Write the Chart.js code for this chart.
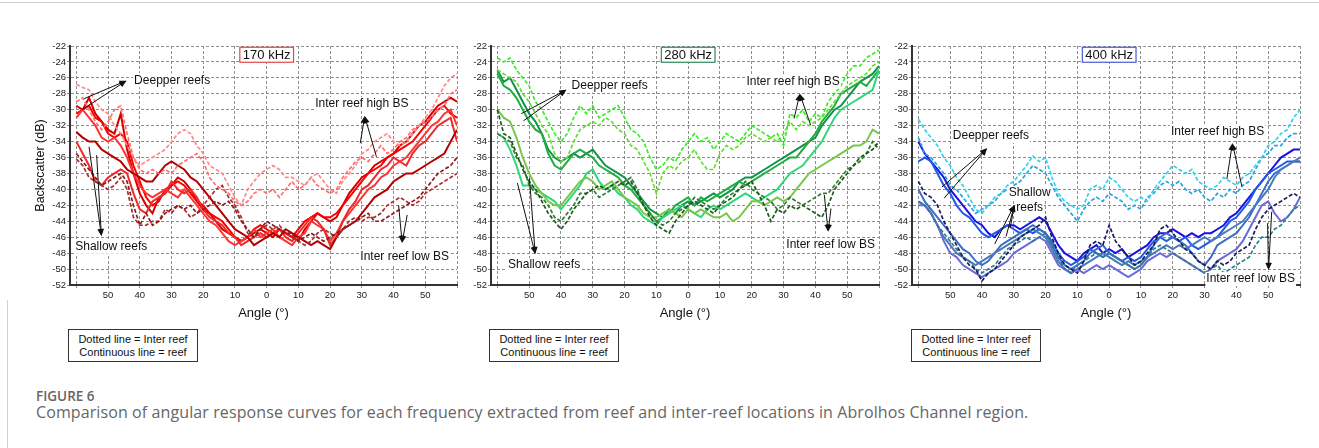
<!DOCTYPE html>
<html>
<head>
<meta charset="utf-8">
<script src="https://cdn.jsdelivr.net/npm/chart.js@4.4.0/dist/chart.umd.min.js"></script>
<style>
    html, body { margin: 0; padding: 0; background: #fff; }
    body { width: 1319px; height: 448px; position: relative; overflow: hidden; font-family: 'Liberation Sans', Arial, sans-serif; }
    .frame-top { position: absolute; left: 0; top: 2px; width: 1319px; height: 1px; background: #cfcfcf; }
    .frame-left { position: absolute; left: 7px; top: 300px; width: 1px; height: 148px; background: #cfcfcf; }
    .panel { position: absolute; top: 38px; height: 287px; }
    .key {
        position: absolute; top: 329px; width: 130px; height: 33px; box-sizing: border-box;
        border: 1px solid #333; padding-top: 3px; font-size: 11px; line-height: 12.5px;
        text-align: center; color: #111;
    }
    .fig-label { position: absolute; left: 36px; top: 390px; font-family: 'Open Sans', sans-serif; font-size: 13.5px; line-height: 13.5px; font-weight: 600; color: #666; }
    .fig-caption { position: absolute; left: 36px; top: 404px; font-family: 'Open Sans', sans-serif; font-size: 16px; line-height: 16px; letter-spacing: 0.1px; color: #666; white-space: nowrap; }
</style>
</head>
<body>
<div class="frame-top"></div>
<div class="frame-left"></div>

<canvas id="p170" class="panel" style="left:30px;width:431px" width="431" height="287"></canvas>
<canvas id="p280" class="panel" style="left:461px;width:422px" width="422" height="287"></canvas>
<canvas id="p400" class="panel" style="left:882px;width:422px" width="422" height="287"></canvas>

<div class="key" style="left:68px">Dotted line = Inter reef<br>Continuous line = reef</div>
<div class="key" style="left:489px">Dotted line = Inter reef<br>Continuous line = reef</div>
<div class="key" style="left:911px">Dotted line = Inter reef<br>Continuous line = reef</div>

<div class="fig-label">FIGURE 6</div>
<div class="fig-caption">Comparison of angular response curves for each frequency extracted from reef and inter-reef locations in Abrolhos Channel region.</div>

<script>
/* ---------- axes ---------- */
const ANGLES = [
    -60, -58, -56, -54, -52, -50, -48, -46, -44, -42,
    -40, -38, -36, -34, -32, -30, -28, -26, -24, -22,
    -20, -18, -16, -14, -12, -10, -8, -6, -4, -2,
    0, 2, 4, 6, 8, 10, 12, 14, 16, 18,
    20, 22, 24, 26, 28, 30, 32, 34, 36, 38,
    40, 42, 44, 46, 48, 50, 52, 54, 56, 58,
    60
];
const X_TICKS = [-60, -50, -40, -30, -20, -10, 0, 10, 20, 30, 40, 50, 60];
const X_TICK_LABELS = ['', '50', '40', '30', '20', '10', '0', '10', '20', '30', '40', '50', ''];
const Y_TICKS = [-52, -50, -48, -46, -44, -42, -40, -38, -36, -34, -32, -30, -28, -26, -24, -22];

/* ---------- 170 kHz ---------- */
const K170_INTER_HIGH_1 = [
    -26.8, -27.2, -27.5, -29, -30, -30.5, -32, -33, -34.5, -36,
    -37, -36.5, -36, -35.5, -35, -34, -33, -32.5, -33, -34.5,
    -35.5, -37, -37.5, -38, -39.5, -41, -42, -40, -39, -38,
    -37.5, -37, -37.5, -38.5, -38.5, -39, -39.5, -38.5, -38, -39,
    -40, -40.5, -39, -38, -37, -35.5, -35, -34, -33.5, -33,
    -34, -34.5, -34, -33, -32, -31, -30, -28.5, -27, -26,
    -25.5
];
const K170_INTER_HIGH_2 = [
    -29, -28.5, -30, -31.5, -32.5, -31.5, -30, -29.5, -33, -36,
    -37.5, -38, -37.5, -38, -37.5, -38, -37, -36.5, -36, -35.5,
    -36.5, -38.5, -39.5, -40, -40.5, -41.5, -42, -41.5, -40.5, -40,
    -40.5, -40, -41, -40, -39, -40, -39.5, -38.5, -39.5, -40,
    -40.5, -40, -38.5, -37.5, -36.5, -36, -36.5, -35.5, -34.5, -35.5,
    -35, -34, -33.5, -32.5, -32, -31.5, -31, -30, -29.5, -28,
    -27.5
];
const K170_INTER_LOW_1 = [
    -35.5, -36.5, -37.5, -38.5, -39.5, -39, -38.5, -38, -39, -42,
    -44.5, -43, -44.5, -44, -43, -42.5, -42, -42.5, -42, -43,
    -42.5, -42, -41.5, -42, -41.5, -42.5, -44, -45, -46, -45,
    -44, -44.5, -45, -45.5, -45.5, -46.5, -46, -45.5, -46, -46.5,
    -46, -45.5, -45, -44.5, -44, -43.5, -43, -44, -44, -43.5,
    -43, -42.5, -42, -41.5, -41, -40, -39, -38, -37.5, -37,
    -36
];
const K170_INTER_LOW_2 = [
    -36.2, -37, -38.5, -39, -39.5, -40, -39.5, -38.5, -40, -43.5,
    -44.5, -44.5, -44, -44, -42.5, -43, -42, -42.5, -43.5, -43,
    -42, -41, -40, -39.5, -41, -42, -43.5, -45.5, -46, -45,
    -44.5, -45, -44.5, -45.5, -46, -46.5, -47, -46.5, -45.5, -45,
    -45.5, -46, -45, -44, -43.5, -44, -43.5, -43.5, -43, -42,
    -41.5, -41, -41.5, -42, -41.5, -40.5, -40, -39.5, -39, -38.5,
    -38
];
const K170_REEF_1 = [
    -30.5, -30, -29.5, -31, -31.5, -33, -33.5, -33, -34, -37,
    -39, -41, -42, -41.5, -40, -39.5, -39, -39.5, -40.5, -41.5,
    -42, -43, -43.5, -44, -45, -46, -46.5, -46, -45, -44.5,
    -45, -45.5, -45, -45.5, -46, -45, -44, -43.5, -43, -43.5,
    -43.5, -43, -42, -41, -40, -39, -38, -37.5, -37, -36,
    -35.5, -35, -34.5, -34, -33, -32, -31, -30, -29.5, -30.5,
    -31
];
const K170_REEF_2 = [
    -29.5, -30, -28.5, -30.5, -31.5, -32.5, -33, -30.5, -35, -38,
    -40.5, -42, -43, -41, -40.5, -39.5, -38.5, -39, -40, -41.5,
    -42.5, -43, -44, -45, -45.5, -46, -46.5, -46, -45.5, -45,
    -45.5, -46, -45, -45.5, -46, -46.5, -45, -44, -43, -43.5,
    -44, -43.5, -42, -40.5, -39.5, -38.5, -38, -37, -36.5, -36,
    -35.5, -34.5, -34, -33, -32, -31.5, -30.5, -29.5, -29, -28.5,
    -29
];
const K170_REEF_3 = [
    -31, -30, -31, -32, -33.5, -34, -33.5, -34.5, -36, -38,
    -39.5, -40.5, -41, -40.5, -40, -40.5, -41, -40, -41, -42,
    -43, -44, -44.5, -45.5, -46.5, -47, -46.5, -46, -45, -46,
    -45.5, -45, -46, -46.5, -47, -46, -45.5, -44, -44.5, -45,
    -46.5, -45.5, -44, -43, -42, -41, -40, -39.5, -38.5, -38,
    -37, -36.5, -36, -35, -34, -33, -32, -31.5, -30.5, -30,
    -32
];
const K170_REEF_4 = [
    -32.8, -33.5, -34, -34, -35, -35.5, -36, -36.5, -37.5, -38,
    -38.5, -39, -39, -38, -37, -36.5, -37, -37.5, -38.5, -39,
    -40, -41, -42, -43, -44, -45, -45.5, -46, -47, -46.5,
    -46, -45.5, -46, -45, -45.5, -46, -46.5, -47, -46.5, -47,
    -47.5, -46, -45, -44.5, -44, -43, -42, -41, -40.5, -40,
    -39, -38.5, -38, -38, -37.5, -37, -36.5, -36, -35.5, -34,
    -32.5
];
const K170_REEF_5 = [
    -34, -35.5, -37, -39, -39.5, -38.5, -38, -37.5, -38, -40.5,
    -42.5, -43, -41.5, -41, -40.5, -39, -40, -40.5, -40, -41,
    -42.5, -43.5, -44, -44.5, -45.5, -46, -47, -46.5, -46, -45.5,
    -46, -45.5, -45, -46, -46.5, -45.5, -44.5, -43.5, -44, -45,
    -47, -46, -44, -42.5, -41.5, -40, -39.5, -38.5, -37.5, -37,
    -36, -36.5, -37, -35.5, -34.5, -34, -33, -32, -31.5, -31,
    -34
];

/* ---------- 280 kHz ---------- */
const K280_INTER_HIGH_1 = [
    -23.5, -24, -23.5, -25, -26, -27, -29, -30, -31.5, -33,
    -34, -33, -31, -29.5, -30.5, -29.5, -31, -30.5, -30, -29.5,
    -31, -32.5, -33, -34, -36, -37.5, -37, -36, -36.5, -35,
    -34, -33, -34, -33.5, -35, -34, -33, -33.5, -34, -33,
    -32, -32.5, -33, -33.5, -33, -34.5, -30.5, -31, -30, -31.5,
    -30.5, -31, -29, -28, -27, -25.5, -24.5, -24.5, -23.5, -23,
    -22.5
];
const K280_INTER_HIGH_2 = [
    -25, -25.5, -26, -26.5, -28, -29, -30.5, -32, -33, -35.5,
    -36.5, -36, -34, -32.5, -32, -31.5, -32, -31, -31.5, -32.5,
    -33, -34.5, -35, -36.5, -38, -40.5, -38, -37, -37.5, -36.5,
    -36, -35, -36.5, -37.5, -37.5, -35.5, -34.5, -35, -34.5, -33.5,
    -33, -33.5, -34, -33.5, -34, -33, -31.5, -32.5, -31.5, -32,
    -31.5, -31, -30, -29, -28, -27, -26.5, -26, -25.5, -24.5,
    -24
];
const K280_INTER_LOW_1 = [
    -30, -33, -33.5, -35.5, -37.5, -39, -40, -41.5, -43, -44,
    -45, -44, -42.5, -41.5, -40.5, -40, -39.5, -40, -39.5, -39,
    -39.5, -39, -40.5, -42, -43.5, -44.5, -45, -45.5, -44, -43,
    -42, -41.5, -42, -42.5, -43, -42, -41.5, -41, -40, -39.5,
    -39, -40.5, -42, -44, -42.5, -43, -42, -42.5, -42, -42.5,
    -43, -43.5, -42, -40, -39, -38, -37, -36, -35.5, -35,
    -34
];
const K280_INTER_LOW_2 = [
    -33, -33.5, -34, -36, -37, -39.5, -40.5, -41, -42, -43.5,
    -44, -43, -42, -40.5, -40.5, -40, -41, -40.5, -40, -39.5,
    -39, -38.5, -40, -42, -43, -44, -44.5, -44, -43, -42.5,
    -42, -41, -41.5, -42, -42.5, -42, -41, -40.5, -40, -39,
    -40, -40.5, -41, -41.5, -42.5, -42, -41, -41.5, -42, -41.5,
    -41, -40.5, -40.5, -39.5, -38.5, -37.5, -37, -36.5, -35.5, -34,
    -35
];
const K280_REEF_1 = [
    -25, -26.5, -26, -27.5, -29, -30.5, -31.5, -33, -35, -36,
    -36.5, -36, -35.5, -36, -35.5, -35, -36, -37, -37.5, -38,
    -38.5, -39.5, -40.5, -41.5, -42.5, -43, -43.5, -42.5, -43, -42,
    -41.5, -42, -41.5, -41, -40.5, -41, -40.5, -40, -39, -38.5,
    -38.5, -38, -37.5, -37, -36.5, -36, -35.5, -35, -34.5, -34,
    -33.5, -32, -31, -30, -29.5, -28.5, -27.5, -26.5, -26, -25.5,
    -24.5
];
const K280_REEF_2 = [
    -25.5, -27, -27.5, -28.5, -30, -31.5, -32.5, -33, -35.5, -37,
    -37.5, -36.5, -35.5, -35, -35.5, -36, -37, -37.5, -38, -38.5,
    -39.5, -40, -41, -42, -43, -44, -43.5, -43, -42, -41.5,
    -41, -42, -41, -41.5, -41, -40.5, -40, -39.5, -39, -39.5,
    -39, -38.5, -38, -37.5, -37, -36.5, -36, -36, -35, -34,
    -33, -31.5, -30.5, -29.5, -28, -27.5, -27, -26.5, -27, -26,
    -25
];
const K280_REEF_3 = [
    -30, -31, -31.5, -33.5, -36, -38, -39.5, -40.5, -41.5, -42,
    -42, -41, -40, -39, -38.5, -39, -40, -39.5, -39, -40,
    -41, -41.5, -42, -43, -43.5, -43.5, -43, -42.5, -43, -43.5,
    -42.5, -43, -42.5, -43, -43.5, -43.5, -43, -44, -43.5, -42.5,
    -41.5, -41.5, -42, -41.5, -41, -41.5, -41, -40, -39, -38,
    -37.5, -37, -36.5, -36, -35.5, -35, -34.5, -34.5, -34, -32.5,
    -33
];
const K280_REEF_4 = [
    -33, -33.5, -35, -37, -39.5, -39.5, -40, -40.5, -41, -41.5,
    -42.5, -41.5, -40.5, -39.5, -38, -37.5, -39, -40, -39.5, -40.5,
    -41, -42, -42.5, -43.5, -44, -44.5, -43.5, -43, -42.5, -42,
    -42.5, -43, -43.5, -42.5, -42, -42.5, -42, -41.5, -41, -40.5,
    -41, -41.5, -41, -40.5, -40, -39, -38, -37.5, -37, -36,
    -35, -34, -32.5, -31, -30, -29.5, -29, -28.5, -28, -27.5,
    -25
];

/* ---------- 400 kHz ---------- */
const K400_INTER_HIGH_1 = [
    -31.2, -32.5, -33.5, -34.5, -36, -37, -38.5, -39.5, -41, -42.5,
    -43, -42, -41, -40.5, -39.5, -39, -38, -37, -35.8, -36.5,
    -36, -38.5, -40.5, -41.5, -42, -42.5, -42, -40, -39.5, -40,
    -38.5, -39, -40, -41, -41.5, -41, -41.5, -40, -39, -38,
    -37, -37.5, -38, -37.5, -39, -39.5, -40, -39.5, -38.5, -39,
    -39.5, -38.5, -38, -37, -36, -34.5, -34, -33, -32.5, -31,
    -30
];
const K400_INTER_HIGH_2 = [
    -33.5, -35.5, -36, -37, -38, -39.5, -40, -41, -42, -43,
    -42.5, -42, -41.5, -40.5, -40, -39.5, -39, -38, -37, -37.5,
    -38, -39.5, -41, -42, -43, -44, -42.5, -41.5, -41, -41.5,
    -40.5, -41, -41.5, -42.5, -42, -42.5, -41, -40.5, -39.5, -39,
    -39.5, -39, -40, -40.5, -40, -41, -41.5, -40.5, -41, -40,
    -40.5, -39.5, -39, -37.5, -36, -35.5, -34.5, -34.5, -33.5, -33,
    -33
];
const K400_INTER_LOW_1 = [
    -39, -40.5, -41, -42, -44, -45.5, -47, -48.5, -49.5, -50,
    -51.5, -50.5, -50, -49, -48, -47, -46, -45.5, -45, -44.5,
    -43.5, -46, -48, -49.5, -50, -50.5, -49, -47, -46.5, -47,
    -44.5, -46.5, -47.5, -48.5, -49.5, -49, -48, -47, -45, -44.5,
    -45.5, -46.5, -47.5, -48, -49, -49.5, -50, -49, -49.5, -49,
    -48, -47.5, -47, -45, -43.5, -42.5, -42, -41.5, -41, -40.5,
    -41
];
const K400_INTER_LOW_2 = [
    -41.5, -42, -43, -44.5, -45.5, -46.5, -47.5, -48.5, -49, -50,
    -50.5, -50, -49.5, -48.5, -47.5, -47, -46.5, -46, -46.5, -46,
    -45.5, -47, -48.5, -50, -50.5, -49.5, -49, -48.5, -48, -48.5,
    -48, -48.5, -49, -49.5, -50, -49.5, -48.5, -47.5, -47, -47.5,
    -48, -48.5, -49, -49.5, -50, -50.5, -50, -49.5, -50.5, -50,
    -49.5, -49, -48.5, -47, -46, -46, -45, -44.5, -43.5, -42.5,
    -42
];
const K400_REEF_1 = [
    -34, -35.5, -36.5, -37.5, -38.5, -40, -41, -42, -43, -44,
    -44.5, -45.5, -46, -45, -44.5, -44.5, -45, -44.5, -44, -43.5,
    -44, -45.5, -47, -48, -48.5, -49, -48, -47.5, -47, -48,
    -47.5, -48, -47.5, -48.5, -48, -47.5, -47, -46, -45.5, -45.5,
    -45, -45.5, -46, -45.5, -46, -45.5, -45.5, -45, -44.5, -43.5,
    -43, -42, -41, -40, -39, -38, -37, -36, -35.5, -35,
    -35
];
const K400_REEF_2 = [
    -36.5, -36, -36.5, -38, -39.5, -40.5, -42, -43, -43.5, -44.5,
    -45.5, -46, -45.5, -45, -44.5, -45, -45.5, -45, -45.5, -45,
    -45.5, -46.5, -48, -49, -49.5, -49, -48.5, -47.5, -48, -48.5,
    -48, -48.5, -49, -48.5, -49, -48.5, -47.5, -46.5, -46, -46.5,
    -46, -46.5, -46, -47, -47.5, -47, -46.5, -46, -45, -44,
    -43.5, -42.5, -41.5, -40, -39, -38, -37.5, -37, -36.5, -36.5,
    -36.5
];
const K400_REEF_3 = [
    -41.5, -42, -43, -44.5, -46, -47, -48, -48.5, -49, -49.5,
    -49, -48.5, -48, -47.5, -47, -46.5, -46, -45.5, -45, -45.5,
    -46, -47.5, -49, -50, -50.5, -50, -49.5, -49, -48.5, -48,
    -48.5, -49, -49.5, -49, -49.5, -49, -48.5, -48, -47.5, -47,
    -47.5, -47, -47.5, -47, -46.5, -46, -46.5, -46, -45.5, -45,
    -44.5, -44, -43, -42, -41, -40, -38.5, -37.5, -37, -36.5,
    -36
];
const K400_REEF_4 = [
    -42, -42, -43, -44.5, -46.5, -48, -48.5, -49.5, -50, -50.5,
    -51, -50.5, -50, -49.5, -49, -48, -47.5, -47, -46.5, -46,
    -46.5, -48, -49.5, -50, -50.5, -50, -50.5, -50, -49.5, -50,
    -49.5, -50, -50.5, -51, -50.5, -50, -49, -48.5, -48, -48.5,
    -48, -48.5, -49, -49.5, -50, -50.5, -50, -49, -48.5, -48,
    -47.5, -46.5, -45, -43.5, -42, -41.5, -43, -44, -43.5, -42.5,
    -41
];
const K400_REEF_5 = [
    -40, -41.5, -42.5, -43.5, -44.5, -45.5, -46.5, -47.5, -48, -49,
    -49.5, -49, -48, -47, -46.5, -46, -45.5, -45, -44.5, -45,
    -45.5, -47, -48.5, -49.5, -50, -49.5, -49, -48, -47.5, -47,
    -48, -48.5, -49, -49.5, -50, -49.5, -48.5, -47, -46, -45.5,
    -46, -46.5, -47, -48, -49, -49.5, -48.5, -47, -46.5, -46,
    -45.5, -44.5, -43.5, -42, -40.5, -39, -38, -37.5, -37, -36.5,
    -36.5
];

/* ---------- look of each curve ---------- */
const SERIES_170 = [
    { values: K170_INTER_HIGH_1, color: '#ff8a8a', dotted: true },
    { values: K170_INTER_HIGH_2, color: '#ff6f6f', dotted: true },
    { values: K170_INTER_LOW_1, color: '#8e1c1c', dotted: true },
    { values: K170_INTER_LOW_2, color: '#a83030', dotted: true },
    { values: K170_REEF_4, color: '#b30000', dotted: false },
    { values: K170_REEF_5, color: '#ee2a2a', dotted: false },
    { values: K170_REEF_3, color: '#ff3333', dotted: false },
    { values: K170_REEF_1, color: '#ff0000', dotted: false },
    { values: K170_REEF_2, color: '#d40000', dotted: false }
];
const SERIES_280 = [
    { values: K280_INTER_HIGH_1, color: '#3aee2a', dotted: true },
    { values: K280_INTER_HIGH_2, color: '#66dd33', dotted: true },
    { values: K280_INTER_LOW_1, color: '#1d5a1d', dotted: true },
    { values: K280_INTER_LOW_2, color: '#2e7d32', dotted: true },
    { values: K280_REEF_3, color: '#78c64c', dotted: false },
    { values: K280_REEF_4, color: '#30d67a', dotted: false },
    { values: K280_REEF_2, color: '#1fae3f', dotted: false },
    { values: K280_REEF_1, color: '#12924a', dotted: false }
];
const SERIES_400 = [
    { values: K400_INTER_HIGH_1, color: '#35d0ee', dotted: true },
    { values: K400_INTER_HIGH_2, color: '#2aa4da', dotted: true },
    { values: K400_INTER_LOW_1, color: '#1c1c5c', dotted: true },
    { values: K400_INTER_LOW_2, color: '#2a7f8f', dotted: true },
    { values: K400_REEF_4, color: '#6a6ad8', dotted: false },
    { values: K400_REEF_3, color: '#4a7ab8', dotted: false },
    { values: K400_REEF_5, color: '#3b6cc8', dotted: false },
    { values: K400_REEF_2, color: '#1e5ae6', dotted: false },
    { values: K400_REEF_1, color: '#1a10e0', dotted: false }
];

/* ---------- annotations (data coordinates: [angle, dB]) ---------- */
const NOTES_170 = [
    { lines: ['Deepper reefs'], at: [-29.8, -26.3], head: [-44.2, -26.35], tails: [[-58.2, -30.0], [-57.5, -28.6]] },
    { lines: ['Shallow reefs'], at: [-49, -47.2], head: [-52.1, -45.85], tails: [[-56, -34.65], [-53.6, -35.7]] },
    { lines: ['Inter reef high BS'], at: [30, -29.3], head: [30.9, -30.8], tails: [[29.5, -34.2], [34.6, -35.9]] },
    { lines: ['Inter reef low BS'], at: [43.5, -48.5], head: [42.7, -46.7], tails: [[41.6, -42], [44.3, -43.2]] }
];
const NOTES_280 = [
    { lines: ['Deepper reefs'], at: [-24.7, -27], head: [-38.3, -27.5], tails: [[-52.5, -30.5], [-51.8, -31.4]] },
    { lines: ['Shallow reefs'], at: [-45.3, -49.5], head: [-48.1, -48.1], tails: [[-53.7, -39.2], [-49.9, -38.6]] },
    { lines: ['Inter reef high BS'], at: [33, -26.5], head: [35.1, -28], tails: [[33.3, -31.1], [38.5, -31.9]] },
    { lines: ['Inter reef low BS'], at: [44.8, -47], head: [44, -45.3], tails: [[42.8, -40.7], [44.9, -42.4]] }
];
const NOTES_400 = [
    { lines: ['Deepper reefs'], at: [-37.2, -33.3], head: [-38.4, -34.85], tails: [[-52.6, -39.7], [-51.9, -41.1]] },
    { lines: ['Shallow', 'reefs'], at: [-25, -41.4], head: [-29.8, -41.95], tails: [[-36, -46.85], [-32.4, -45.9], [-31.1, -44.8]] },
    { lines: ['Inter reef high BS'], at: [34.1, -32.75], head: [38.75, -34.2], tails: [[37, -38.7], [41.7, -39.6]] },
    { lines: ['Inter reef low BS'], at: [44.5, -51.25], head: [50.1, -50.1], tails: [[49.8, -44.25], [51.1, -42.8]] }
];

const FONT = 'Liberation Sans';

function drawArrow(ctx, x1, y1, x2, y2) {
    const ang = Math.atan2(y2 - y1, x2 - x1);
    const len = 7, half = 3;
    ctx.beginPath();
    ctx.moveTo(x1, y1);
    ctx.lineTo(x2 - Math.cos(ang) * len * 0.8, y2 - Math.sin(ang) * len * 0.8);
    ctx.stroke();
    ctx.beginPath();
    ctx.moveTo(x2, y2);
    ctx.lineTo(x2 - Math.cos(ang) * len - Math.sin(ang) * half, y2 - Math.sin(ang) * len + Math.cos(ang) * half);
    ctx.lineTo(x2 - Math.cos(ang) * len + Math.sin(ang) * half, y2 - Math.sin(ang) * len - Math.cos(ang) * half);
    ctx.closePath();
    ctx.fill();
}

// Arrows, labels and the frequency box on top of each panel
const panelNotes = {
    id: 'panelNotes',
    afterDraw(chart, args, opts) {
        const { ctx, scales: { x, y } } = chart;
        const px = a => x.getPixelForValue(a);
        const py = v => y.getPixelForValue(v);
        ctx.save();
        ctx.strokeStyle = '#111';
        ctx.fillStyle = '#111';
        ctx.lineWidth = 1;
        opts.notes.forEach(n => {
            n.tails.forEach(t => drawArrow(ctx, px(t[0]), py(t[1]), px(n.head[0]), py(n.head[1])));
        });

        ctx.font = `12px "${FONT}"`;
        ctx.textAlign = 'center';
        ctx.textBaseline = 'middle';
        opts.notes.forEach(n => {
            const lh = 15;
            const cx = px(n.at[0]);
            const cy0 = py(n.at[1]) - (n.lines.length - 1) * lh / 2;
            n.lines.forEach((line, i) => {
                const w = ctx.measureText(line).width;
                const cy = cy0 + i * lh;
                ctx.fillStyle = '#fff';
                ctx.fillRect(cx - w / 2 - 1, cy - 7, w + 2, 14);
                ctx.fillStyle = '#111';
                ctx.fillText(line, cx, cy);
            });
        });

        // frequency label
        ctx.font = `13px "${FONT}"`;
        const fw = ctx.measureText(opts.freq).width + 6;
        const fx = px(0), fy = py(-23.1);
        ctx.fillStyle = '#fff';
        ctx.fillRect(fx - fw / 2, fy - 7.5, fw, 15);
        ctx.strokeStyle = opts.freqColor;
        ctx.lineWidth = 1.2;
        ctx.strokeRect(fx - fw / 2, fy - 7.5, fw, 15);
        ctx.fillStyle = '#111';
        ctx.fillText(opts.freq, fx, fy + 0.5);
        ctx.restore();
    }
};

function buildPanel(id, series, notes, freq, freqColor, yTitle, yWidth) {
    const datasets = series.map(s => ({
        data: ANGLES.map((a, i) => ({ x: a, y: s.values[i] })),
        borderColor: s.color,
        borderWidth: s.dotted ? 1.7 : 2,
        borderDash: s.dotted ? [4, 2] : [],
        pointRadius: 0,
        tension: 0,
        fill: false
    }));

    const gridStyle = { color: '#8e8e8e', lineWidth: 1, tickLength: 3 };

    return new Chart(document.getElementById(id), {
        type: 'line',
        data: { datasets },
        plugins: [panelNotes],
        options: {
            responsive: false,
            animation: false,
            layout: { padding: { top: 8, right: 4, left: 0, bottom: 0 } },
            plugins: {
                legend: { display: false },
                tooltip: { enabled: false },
                panelNotes: { notes, freq, freqColor }
            },
            scales: {
                x: {
                    type: 'linear',
                    min: -62,
                    max: 60,
                    afterBuildTicks: s => { s.ticks = X_TICKS.map(v => ({ value: v })); },
                    afterFit: s => { s.height = 40; },
                    ticks: {
                        autoSkip: false,
                        maxRotation: 0,
                        padding: 2,
                        color: '#222',
                        font: { family: FONT, size: 9.5 },
                        callback: v => X_TICK_LABELS[X_TICKS.indexOf(v)]
                    },
                    grid: gridStyle,
                    border: { display: true, color: '#333', width: 2, dash: [3, 2] },
                    title: {
                        display: true,
                        text: 'Angle (°)',
                        color: '#111',
                        font: { family: FONT, size: 13 },
                        padding: { top: 0, bottom: 4 }
                    }
                },
                y: {
                    type: 'linear',
                    min: -52,
                    max: -22,
                    afterBuildTicks: s => { s.ticks = Y_TICKS.map(v => ({ value: v })); },
                    afterFit: s => { s.width = yWidth; },
                    ticks: {
                        autoSkip: false,
                        padding: 1,
                        color: '#222',
                        font: { family: FONT, size: 9.5 },
                        callback: v => String(v)
                    },
                    grid: gridStyle,
                    border: { display: true, color: '#333', width: 2, dash: [3, 2] },
                    title: {
                        display: yTitle,
                        text: 'Backscatter (dB)',
                        color: '#111',
                        font: { family: FONT, size: 12.5 },
                        padding: { top: 3.5, bottom: 0 }
                    }
                }
            }
        }
    });
}

buildPanel('p170', SERIES_170, NOTES_170, '170 kHz', '#e04848', true, 40);
buildPanel('p280', SERIES_280, NOTES_280, '280 kHz', '#2f8a5a', false, 30);
buildPanel('p400', SERIES_400, NOTES_400, '400 kHz', '#4a58d8', false, 30);
</script>
</body>
</html>
